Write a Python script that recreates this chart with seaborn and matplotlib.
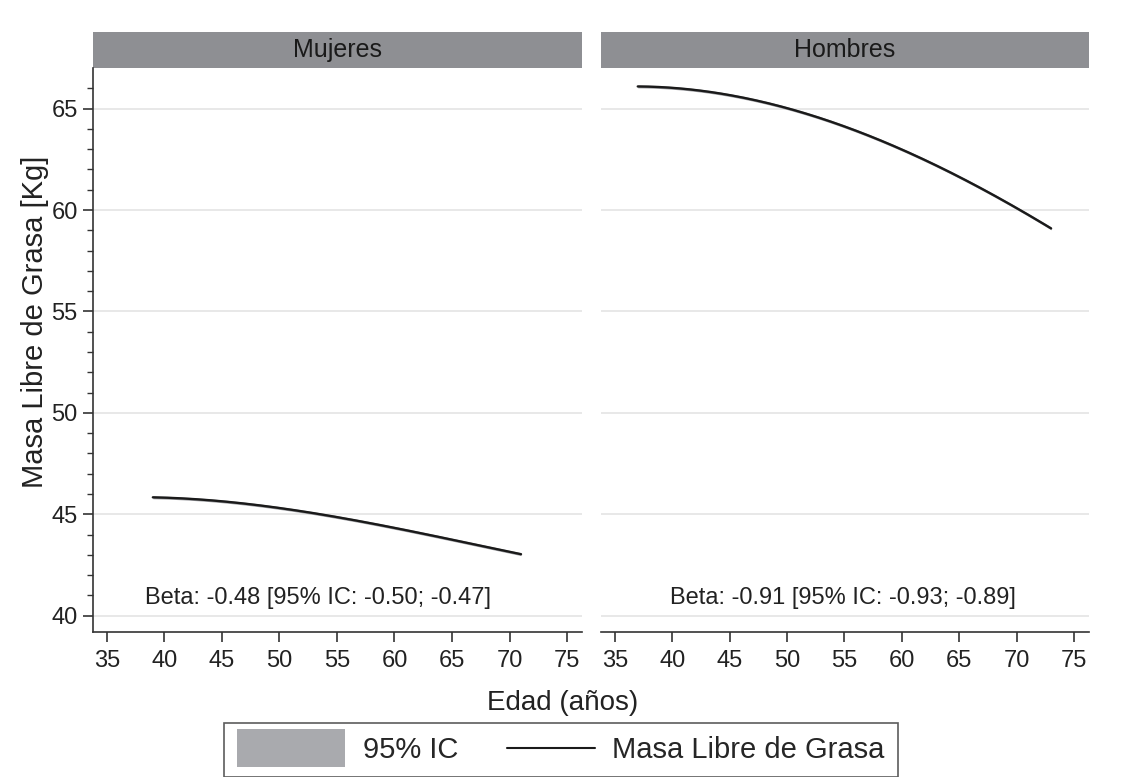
import numpy as np
import pandas as pd
import matplotlib.pyplot as plt
import seaborn as sns
from matplotlib.patches import Rectangle, Patch
from matplotlib.lines import Line2D
from matplotlib.legend_handler import HandlerPatch, HandlerBase

# values
edad_muj = [39, 41, 45, 50, 55, 60, 65, 71]
mlg_muj = [45.78, 45.85, 45.70, 45.30, 44.80, 44.30, 43.85, 43.00]
edad_hom = [37, 40, 45, 50, 55, 60, 65, 70, 73]
mlg_hom = [66.13, 65.97, 65.64, 65.07, 64.13, 62.98, 61.60, 60.10, 59.10]
ci_half = 0.07

paneles = ["Mujeres", "Hombres"]
betas = ["Beta: -0.48 [95% IC: -0.50; -0.47]", "Beta: -0.91 [95% IC: -0.93; -0.89]"]

df = pd.concat([
    pd.DataFrame({"Edad": edad_muj, "MLG": mlg_muj, "Sexo": "Mujeres"}),
    pd.DataFrame({"Edad": edad_hom, "MLG": mlg_hom, "Sexo": "Hombres"}),
])

sns.set_style("white")
plt.rcParams["font.family"] = ["Liberation Sans", "DejaVu Sans"]

fig = plt.figure(figsize=(11.22, 7.77), dpi=100)
W, H = 1122, 777
axes = [fig.add_axes([93 / W, 1 - 632 / H, 489 / W, 564 / H]),
        fig.add_axes([601 / W, 1 - 632 / H, 488 / W, 564 / H])]

for i, (ax, panel) in enumerate(zip(axes, paneles)):
    d = df[df["Sexo"] == panel].copy()
    # smooth curve through the read points
    xs = np.linspace(d["Edad"].min(), d["Edad"].max(), 200)
    coef = np.polyfit(d["Edad"], d["MLG"], 3)
    ys = np.polyval(coef, xs)
    ax.fill_between(xs, ys - ci_half, ys + ci_half, color="#9c9da1", lw=0, zorder=2)
    sns.lineplot(x=xs, y=ys, ax=ax, color="#1a1a1a", lw=1.7, zorder=3)

    ax.set_xlim(33.8, 76.3)
    ax.set_ylim(39.2, 67.0)
    ax.set_xticks(range(35, 80, 5))
    ax.set_yticks(range(40, 70, 5))
    ax.set_yticks(range(40, 67), minor=True)
    ax.grid(axis="y", color="#e4e4e4", lw=1.2, zorder=0)
    ax.tick_params(axis="x", length=7, width=1.2, color="#333333", labelsize=17,
                   labelcolor="#222222", pad=6, bottom=True)
    for s in ["top", "right"]:
        ax.spines[s].set_visible(False)
    ax.spines["bottom"].set_color("#333333")
    ax.spines["bottom"].set_linewidth(1.2)
    if i == 0:
        ax.spines["left"].set_color("#333333")
        ax.spines["left"].set_linewidth(1.2)
        ax.tick_params(axis="y", which="major", length=7, width=1.2, color="#333333",
                       labelsize=17, labelcolor="#222222", left=True, pad=4)
        ax.tick_params(axis="y", which="minor", length=4, width=1.0, color="#333333", left=True)
    else:
        ax.spines["left"].set_visible(False)
        ax.tick_params(axis="y", which="both", left=False, labelleft=False)
    ax.set_xlabel("")
    ax.set_ylabel("")

    # strip header
    ax.add_patch(Rectangle((0, 1), 1, 36 / 564, transform=ax.transAxes,
                           facecolor="#8e8f93", edgecolor="none", clip_on=False))
    ax.text(0.5, 1 + 18 / 564, panel, transform=ax.transAxes, ha="center",
            va="center", fontsize=18, color="#1a1a1a")
    ax.text(0.46 if i == 0 else 0.496, 0.06, betas[i], transform=ax.transAxes,
            ha="center", va="center", fontsize=17, color="#222222")

fig.text(563 / W, 1 - 703 / H, "Edad (años)", ha="center", va="center",
         fontsize=20, color="#222222")
fig.text(35 / W, 1 - 322 / H, "Masa Libre de Grasa [Kg]", ha="center",
         va="center", rotation=90, fontsize=21, color="#222222")


def tall_patch(legend, orig_handle, xdescent, ydescent, width, height, fontsize):
    # ci key fills the whole handle box and is taller than the text
    return Rectangle((-xdescent, -ydescent - 0.3 * height), width, 1.6 * height)


class ShortLine(HandlerBase):
    # line key sits in the right part of the handle box
    def create_artists(self, legend, orig_handle, xdescent, ydescent, width,
                       height, fontsize, trans):
        y = height / 2 - ydescent
        ln = Line2D([-xdescent + 0.18 * width, -xdescent + width], [y, y],
                    color=orig_handle.get_color(), lw=orig_handle.get_linewidth(),
                    transform=trans)
        return [ln]


handles = [Patch(facecolor="#a9aaae", edgecolor="none"),
           Line2D([], [], color="#1a1a1a", lw=1.5)]
leg = fig.legend(handles, ["95% IC", "Masa Libre de Grasa"], ncol=2,
                 loc="center", bbox_to_anchor=(561 / W, 1 - 750 / H),
                 fontsize=21, frameon=True, fancybox=False, edgecolor="#333333",
                 handlelength=3.7, handleheight=0.9, columnspacing=1.0,
                 borderpad=0.45, borderaxespad=0, handletextpad=0.6,
                 handler_map={Patch: HandlerPatch(patch_func=tall_patch),
                              Line2D: ShortLine()})
leg.get_frame().set_linewidth(1.2)

fig.savefig("out.png", dpi=100)
